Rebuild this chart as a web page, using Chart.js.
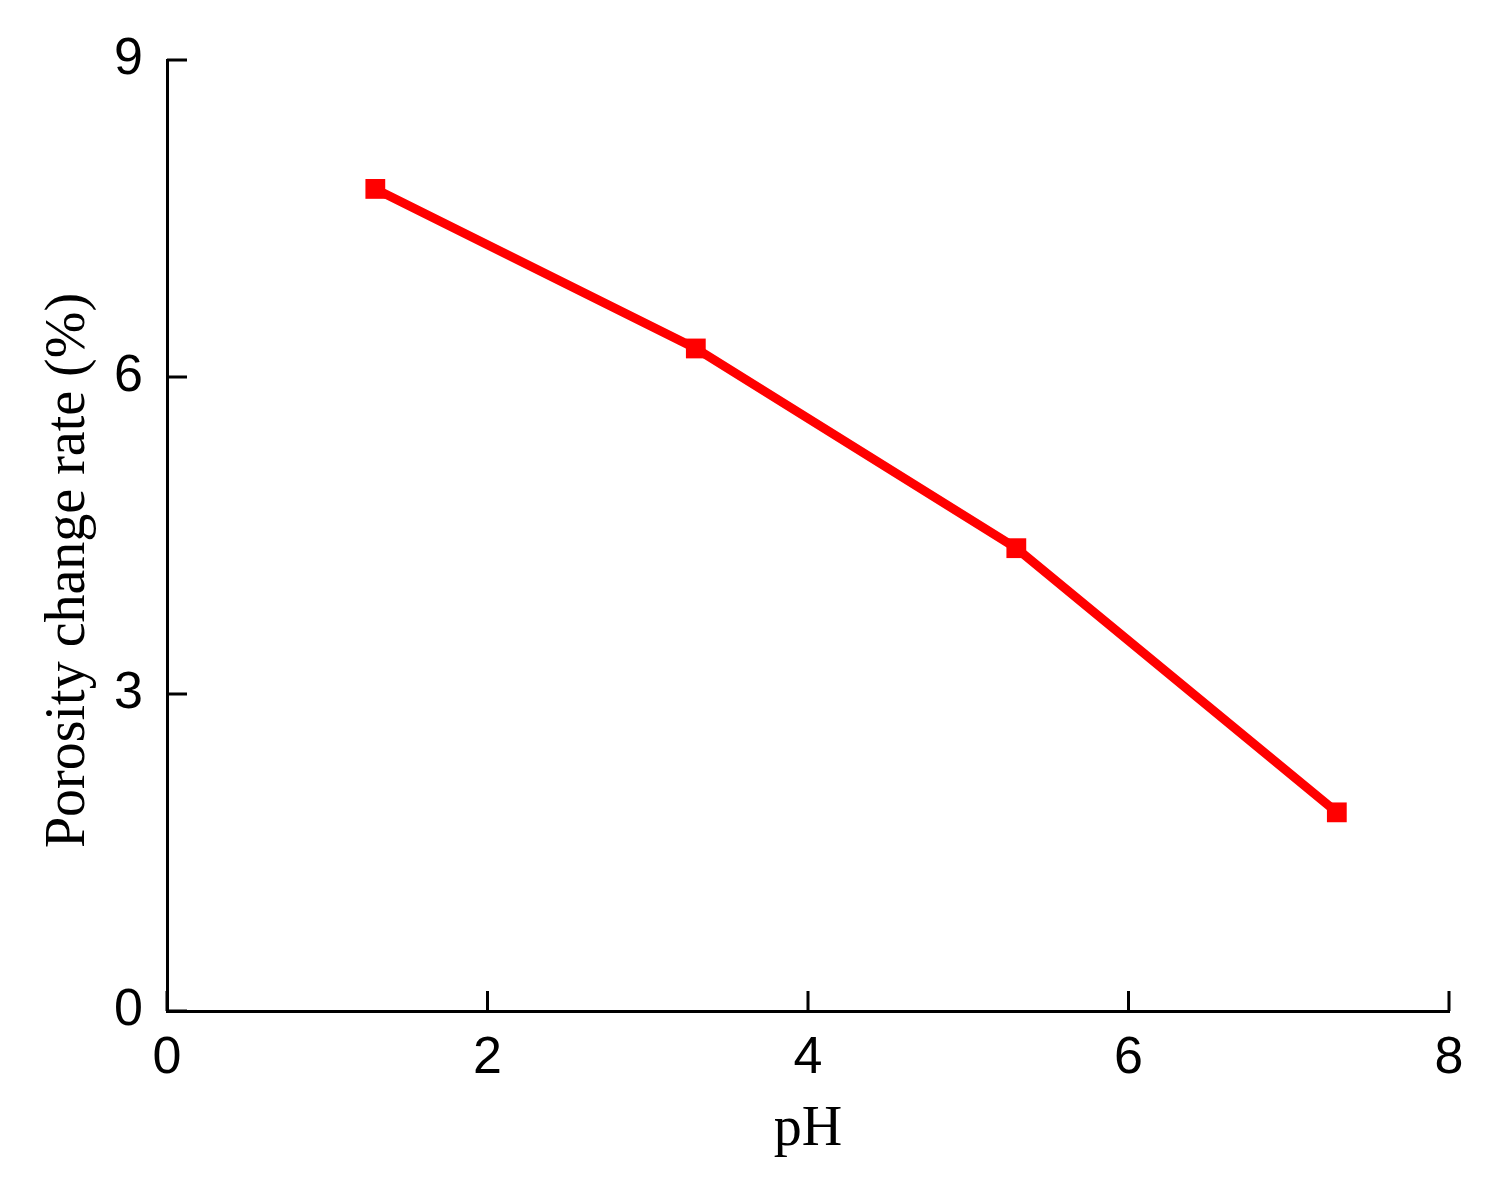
<!DOCTYPE html>
<html>
<head>
<meta charset="utf-8">
<script src="https://cdn.jsdelivr.net/npm/chart.js@4.4.0/dist/chart.umd.min.js"></script>
<style>
  html, body { margin: 0; padding: 0; background: #fff; }
  #wrap { width: 1500px; height: 1187px; }
</style>
</head>
<body>
<div id="wrap"><canvas id="chart"></canvas></div>
<script>
var phValues = [1.3, 3.3, 5.3, 7.3];
var porosityRate = [7.78, 6.27, 4.38, 1.88];
var xTicks = [0, 2, 4, 6, 8];
var yTicks = [0, 3, 6, 9];

// ticks drawn inside the plot, like the original figure
var inwardTicks = {
  id: 'inwardTicks',
  afterDraw: function (chart) {
    var c = chart.ctx, xs = chart.scales.x, ys = chart.scales.y;
    var len = 20;
    c.save();
    c.strokeStyle = '#000';
    c.lineWidth = 3;
    c.beginPath();
    xTicks.forEach(function (v) {
      var px = xs.getPixelForValue(v);
      c.moveTo(px, ys.bottom);
      c.lineTo(px, ys.bottom - len);
    });
    yTicks.forEach(function (v) {
      var py = ys.getPixelForValue(v);
      c.moveTo(xs.left, py);
      c.lineTo(xs.left + len, py);
    });
    c.stroke();
    c.restore();
  }
};

var tickFont = { family: "'Liberation Sans', Arial, sans-serif", size: 52 };
var titleFont = { family: "'Liberation Serif', 'Times New Roman', serif", size: 56 };

var ctx = document.getElementById('chart').getContext('2d');
new Chart(ctx, {
  type: 'line',
  data: {
    datasets: [{
      label: 'Porosity change rate',
      data: phValues.map(function (x, i) { return { x: x, y: porosityRate[i] }; }),
      borderColor: '#ff0000',
      backgroundColor: '#ff0000',
      borderWidth: 9,
      borderCapStyle: 'round',
      pointStyle: 'rect',
      pointRadius: 14,
      pointHoverRadius: 14,
      pointBorderWidth: 0,
      tension: 0
    }]
  },
  options: {
    responsive: true,
    maintainAspectRatio: false,
    animation: false,
    layout: { padding: { top: 60, right: 51, left: 0, bottom: 0 } },
    plugins: { legend: { display: false }, tooltip: { enabled: false } },
    scales: {
      x: {
        type: 'linear',
        min: 0, max: 8,
        afterBuildTicks: function (s) { s.ticks = xTicks.map(function (v) { return { value: v }; }); },
        afterFit: function (s) { s.height = 176; },
        grid: { display: false, drawTicks: false },
        border: { display: true, color: '#000', width: 3 },
        ticks: { color: '#000', padding: 16, maxRotation: 0, font: tickFont },
        title: {
          display: true, text: 'pH', color: '#000',
          font: titleFont,
          padding: { top: 0, bottom: 23 }
        }
      },
      y: {
        type: 'linear',
        min: 0, max: 9,
        afterBuildTicks: function (s) { s.ticks = yTicks.map(function (v) { return { value: v }; }); },
        afterFit: function (s) { s.width = 167; },
        grid: { display: false, drawTicks: false },
        border: { display: true, color: '#000', width: 3 },
        ticks: { color: '#000', padding: 24, font: tickFont },
        title: {
          display: true, text: 'Porosity change rate (%)\u00a0\u00a0\u00a0\u00a0\u00a0', color: '#000',
          font: titleFont,
          padding: { top: 36, bottom: 0 }
        }
      }
    }
  },
  plugins: [inwardTicks]
});
</script>
</body>
</html>
